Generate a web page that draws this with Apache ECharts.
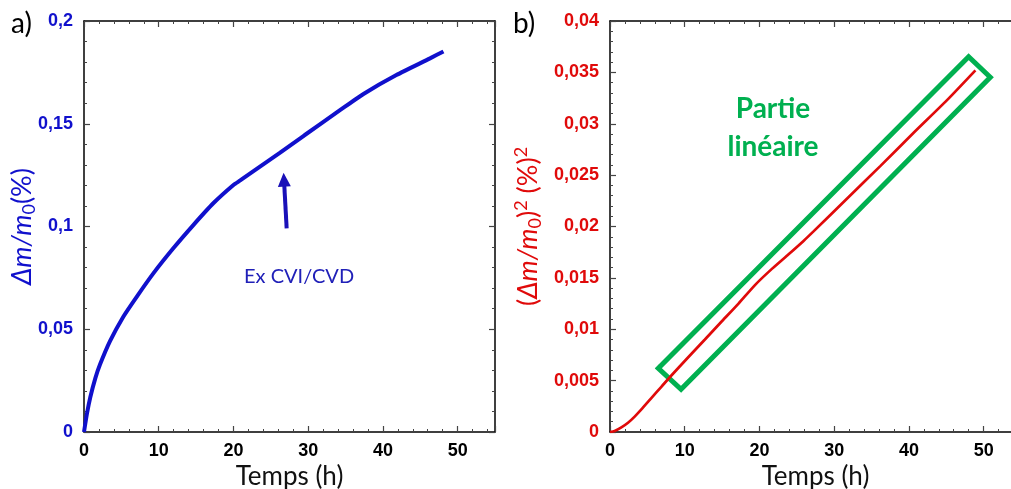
<!DOCTYPE html>
<html><head><meta charset="utf-8">
<script src="https://cdn.jsdelivr.net/npm/echarts@6/dist/echarts.min.js"></script>
<style>html,body{margin:0;padding:0;background:#fff}#c{width:1011px;height:489px}</style>
</head><body><div id="c"></div>
<script>
// ---- data ----
const timeA = [0, 0.4, 0.85, 1.52, 2.14, 3.48, 5.26, 7.05, 9.28, 11.95, 14.63, 17.3, 20.0, 20.9, 23.5, 26.2, 29.5, 34.3, 37.4, 41.8, 46.3, 48.1];
const massA = [0, 0.009, 0.017, 0.0262, 0.0328, 0.0442, 0.0561, 0.0658, 0.0772, 0.0894, 0.1007, 0.1113, 0.1202, 0.1224, 0.1290, 0.1358, 0.1444, 0.1567, 0.1645, 0.1737, 0.1818, 0.1852];
const timeB = [0, 0.62, 1.52, 2.41, 3.3, 4.2, 5.53, 6.87, 8.21, 10.5, 12.7, 15.0, 17.2, 19.4, 21.7, 23.9, 25.9, 27.2, 31.7, 36.2, 40.6, 45.1, 48.9];
const massSqB = [0, 0.0001, 0.00045, 0.0009, 0.0015, 0.0022, 0.0033, 0.0044, 0.0055, 0.0073, 0.0090, 0.0108, 0.0125, 0.0143, 0.0159, 0.0173, 0.0186, 0.0195, 0.0227, 0.0259, 0.0291, 0.0323, 0.0352];
const boxT = [6.47, 9.51, 50.89, 47.99, 6.47];
const boxV = [0.0062, 0.00415, 0.03452, 0.03653, 0.0062];
const arrowFrom = [27.12, 0.0991];
const arrowTo = [26.76, 0.1228];
const xRange = [0, 55, 10];
const yRangeA = [0, 0.2, 0.05];
const yRangeB = [0, 0.04, 0.005];
const panelLabels = ['a)', 'b)'];
const noteA = 'Ex CVI/CVD';
const noteB = ['Partie', 'linéaire'];

const BLUE = '#1010cc', RED = '#e00a0a', GREEN = '#00b050';
const zip = (a, b) => a.map((v, i) => [v, b[i]]);
const fmt = v => String(+v.toFixed(4)).replace('.', ',');

function axisBase(range, extra) {
  return Object.assign({
    type: 'value', min: range[0], max: range[1], interval: range[2],
    nameMoveOverlap: false,
    axisLine: { show: true, onZero: false, lineStyle: { color: '#000', width: 1.5 } },
    axisTick: { show: true, inside: true, length: 6, lineStyle: { color: '#444', width: 1.2 } },
    minorTick: { show: true, splitNumber: 5, length: 3, lineStyle: { color: '#444', width: 1 } },
    splitLine: { show: false }, minorSplitLine: { show: false }
  }, extra);
}
function xAxisFor(gi) {
  return [
    axisBase(xRange, { gridIndex: gi, position: 'bottom',
      axisLabel: { show: true, margin: 10, showMaxLabel: false, color: '#000', fontFamily: 'Liberation Sans', fontWeight: 'bold', fontSize: 18, formatter: fmt },
      name: 'Temps (h)', nameLocation: 'middle', nameGap: 32,
      nameTextStyle: { fontFamily: 'Lato', fontSize: 26, color: '#111', verticalAlign: 'top' } }),
    axisBase(xRange, { gridIndex: gi, position: 'top', axisLabel: { show: false } })
  ];
}
function yAxisFor(gi, range, color, name, gap, rich) {
  return [
    axisBase(range, { gridIndex: gi, position: 'left',
      axisLabel: { show: true, margin: 11, color: color, fontFamily: 'Liberation Sans', fontWeight: 'bold', fontSize: 18, formatter: fmt },
      name: name, nameLocation: 'middle', nameRotate: 90, nameGap: gap,
      nameTextStyle: { color: color, fontFamily: 'Lato', fontSize: 27, lineHeight: 32, rich: rich } }),
    axisBase(range, { gridIndex: gi, position: 'right', axisLabel: { show: false } })
  ];
}
function richFor(color) {
  return {
    n: { color: color, fontFamily: 'Lato', fontSize: 27, lineHeight: 32 },
    i: { color: color, fontFamily: 'Lato', fontSize: 27, lineHeight: 32, fontStyle: 'italic' },
    sub: { color: color, fontFamily: 'Lato', fontSize: 18, lineHeight: 15, verticalAlign: 'bottom' },
    sup: { color: color, fontFamily: 'Lato', fontSize: 18, lineHeight: 15, verticalAlign: 'top' }
  };
}

const chart = echarts.init(document.getElementById('c'), null, { renderer: 'canvas' });
chart.setOption({
  animation: false,
  backgroundColor: '#fff',
  grid: [
    { left: 84, top: 21, width: 411, height: 411, outerBoundsMode: 'none', containLabel: false },
    { left: 610, top: 21, width: 411, height: 411, outerBoundsMode: 'none', containLabel: false }
  ],
  xAxis: [...xAxisFor(0), ...xAxisFor(1)],
  yAxis: [
    ...yAxisFor(0, yRangeA, BLUE, '{i|Δm/m}{sub|0}{n|(%)}', 46, richFor(BLUE)),
    ...yAxisFor(1, yRangeB, RED, '{n|(}{i|Δm/m}{sub|0}{n|)}{sup|2}{n| (%)}{sup|2}', 66, richFor(RED))
  ],
  series: [
    {
      type: 'line', xAxisIndex: 0, yAxisIndex: 0, data: zip(timeA, massA),
      showSymbol: false, smooth: 0.2, lineStyle: { color: BLUE, width: 4 }, z: 3,
      markLine: {
        silent: true, symbol: ['none', 'triangle'], symbolSize: [13, 14],
        label: { show: false },
        lineStyle: { color: '#1a10b8', width: 4, type: 'solid' },
        data: [[{ coord: arrowFrom }, { coord: arrowTo }]]
      }
    },
    {
      type: 'line', xAxisIndex: 2, yAxisIndex: 2, data: zip(boxT, boxV),
      showSymbol: false, lineStyle: { color: GREEN, width: 5, join: 'miter', cap: 'square' }, z: 2
    },
    {
      type: 'line', xAxisIndex: 2, yAxisIndex: 2, data: zip(timeB, massSqB),
      showSymbol: false, smooth: 0.2, lineStyle: { color: RED, width: 2.7 }, z: 3
    }
  ],
  graphic: [
    { type: 'text', left: 11, top: 10, style: { text: panelLabels[0], font: '28px Lato', fill: '#000' } },
    { type: 'text', left: 513, top: 10, style: { text: panelLabels[1], font: '28px Lato', fill: '#000' } },
    { type: 'text', left: 244, top: 267, style: { text: noteA, font: '20px Lato', fill: '#2020b8' } },
    { type: 'text', x: 773, y: 109, style: { text: noteB[0], font: 'bold 28px Lato', fill: GREEN, align: 'center', verticalAlign: 'middle' } },
    { type: 'text', x: 773, y: 147, style: { text: noteB[1], font: 'bold 28px Lato', fill: GREEN, align: 'center', verticalAlign: 'middle' } }
  ]
});
</script></body></html>
